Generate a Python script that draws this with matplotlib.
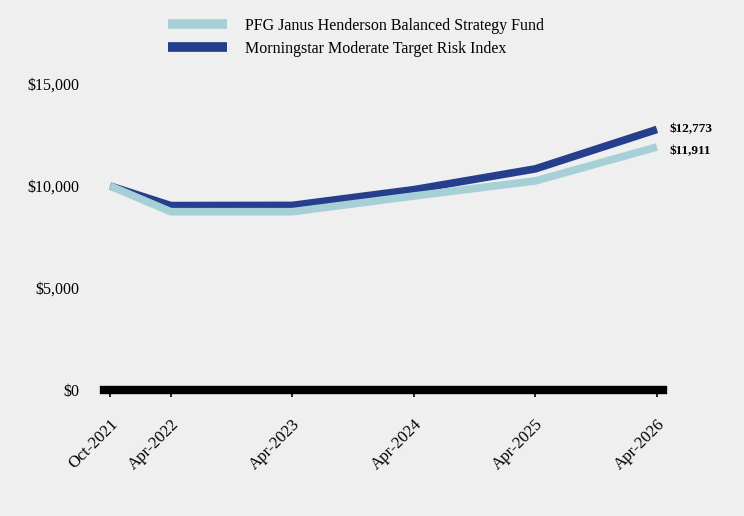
import numpy as np
import matplotlib.pyplot as plt
from matplotlib.ticker import FuncFormatter

# data
dates = ["Oct-2021", "Apr-2022", "Apr-2023", "Apr-2024", "Apr-2025", "Apr-2026"]
date_pos = [2021.75, 2022.25, 2023.25, 2024.25, 2025.25, 2026.25]
fund_name = "PFG Janus Henderson Balanced Strategy Fund"
index_name = "Morningstar Moderate Target Risk Index"
fund_vals = [10000, 8740, 8740, 9510, 10250, 11911]
index_vals = [10000, 9040, 9050, 9820, 10840, 12773]

light = "#a6d0d6"
dark = "#263f8c"
bg = "#efefef"

plt.rcParams["font.family"] = ["Liberation Serif", "DejaVu Serif"]

fig = plt.figure(figsize=(7.44, 5.16), dpi=100, facecolor=bg)
ax = fig.add_axes([104 / 744, 0.2442, 559 / 744, 0.593])
ax.set_facecolor(bg)

ax.plot(date_pos, fund_vals, color=light, lw=5.5, label=fund_name, zorder=3,
        solid_capstyle="butt", solid_joinstyle="miter")
ax.plot(date_pos, index_vals, color=dark, lw=5.5, label=index_name, zorder=2,
        solid_capstyle="butt", solid_joinstyle="miter")

ax.text(date_pos[-1] + 0.1, index_vals[-1], "\\$12,773", fontsize=9.5, fontweight="bold",
        va="center", ha="left")
ax.text(date_pos[-1] + 0.1, fund_vals[-1] - 180, "\\$11,911", fontsize=9.5, fontweight="bold",
        va="center", ha="left")

ax.set_xlim(2021.70, 2026.30)
ax.set_ylim(0, 15000)
ax.set_yticks([0, 5000, 10000, 15000])
ax.yaxis.set_major_formatter(FuncFormatter(lambda v, p: "\\${:,.0f}".format(v)))
ax.tick_params(axis="y", length=0, labelsize=11.5, pad=18)

ax.set_xticks(date_pos)
ax.set_xticklabels(dates, rotation=45, ha="right", rotation_mode="anchor", fontsize=12)
ax.tick_params(axis="x", length=5, width=1.2, pad=14, direction="out")

for s in ["top", "right", "left"]:
    ax.spines[s].set_visible(False)
ax.spines["bottom"].set_linewidth(6)
ax.spines["bottom"].set_color("black")

leg = fig.legend(loc="upper left", bbox_to_anchor=(168 / 744, 1 - 18 / 516), frameon=False,
                 fontsize=11.5, handlelength=3.7, handletextpad=1.1, labelspacing=0.42,
                 borderpad=0, borderaxespad=0)
for h in leg.get_lines():
    h.set_linewidth(7)

fig.savefig("out.png", dpi=100, facecolor=bg)
